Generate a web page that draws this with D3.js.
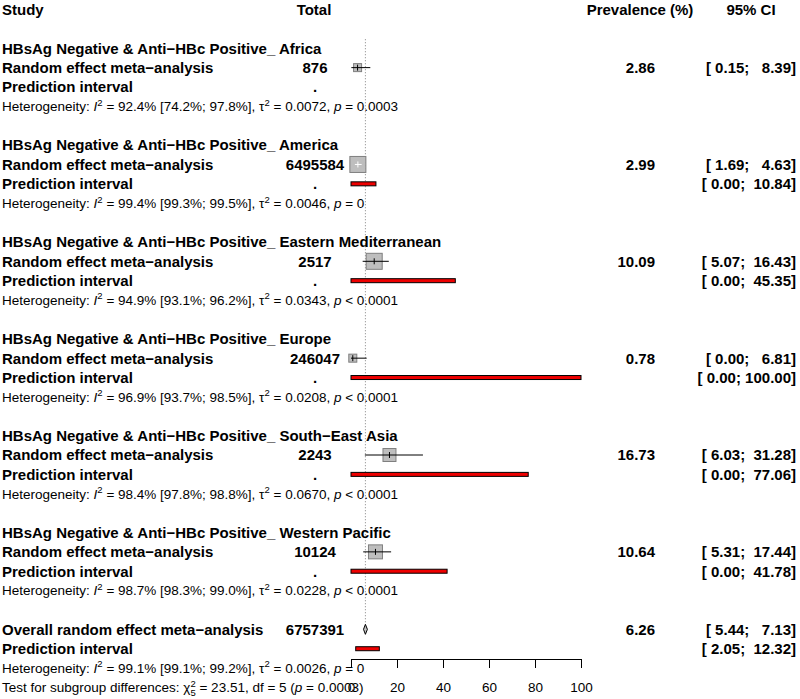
<!DOCTYPE html>
<html><head><meta charset="utf-8">
<script src="https://cdn.jsdelivr.net/npm/d3@7"></script>
<style>body{margin:0;background:#fff} svg{display:block} text{white-space:pre}</style>
</head><body>
<svg id="chart" width="800" height="699"></svg>
<script>
// ---------------- data ----------------
const regions = ["Africa", "America", "Eastern Mediterranean", "Europe", "South\u2212East Asia", "Western Pacific"];
const totals = [876, 6495584, 2517, 246047, 2243, 10124];
const prevalence = [2.86, 2.99, 10.09, 0.78, 16.73, 10.64];
const ciLower = [0.15, 1.69, 5.07, 0.00, 6.03, 5.31];
const ciUpper = [8.39, 4.63, 16.43, 6.81, 31.28, 17.44];
const piLower = [null, 0.00, 0.00, 0.00, 0.00, 0.00];
const piUpper = [null, 10.84, 45.35, 100.00, 77.06, 41.78];
const weights = [6.4, 25.5, 25.5, 6.4, 16.8, 19.5];
const hetI2 = ["92.4%", "99.4%", "94.9%", "96.9%", "98.4%", "98.7%"];
const hetI2Low = ["74.2%", "99.3%", "93.1%", "93.7%", "97.8%", "98.3%"];
const hetI2High = ["97.8%", "99.5%", "96.2%", "98.5%", "98.8%", "99.0%"];
const hetTau2 = ["0.0072", "0.0046", "0.0343", "0.0208", "0.0670", "0.0228"];
const hetP = ["= 0.0003", "= 0", "< 0.0001", "< 0.0001", "< 0.0001", "< 0.0001"];
const overall = {total: 6757391, est: 6.26, lo: 5.44, hi: 7.13, piLo: 2.05, piHi: 12.32,
  i2: "99.1%", i2Low: "99.1%", i2High: "99.2%", tau2: "0.0026", p: "= 0"};
const subgroupTest = {chi2: "23.51", df: "5", p: "0.0003"};
const xTicks = [0, 20, 40, 60, 80, 100];
const headers = {study: "Study", total: "Total", prev: "Prevalence (%)", ci: "95% CI"};

// ---------------- layout ----------------
const FONT = "'Liberation Sans', Arial, Helvetica, sans-serif";
const FS = 15, FSH = 13.5;
const rowH = 19.37, row0 = 9.5;
const yRow = i => row0 + i * rowH;
const colTotal = 315, colPrev = 655, colCI = 796;
const svg = d3.select("#chart").style("font-family", FONT);
svg.append("rect").attr("width", 800).attr("height", 699).attr("fill", "#fff");

const x = d3.scaleLinear().domain([0, 100]).range([351, 581]);
const sq = d3.scaleSqrt().domain([0, 25.5]).range([0, 16]);

const fmtLo = v => v.toFixed(2).padStart(5, " ");
const fmtHi = v => v.toFixed(2).padStart(6, " ");
const ciStr = (a, b) => "[" + fmtLo(a) + "; " + fmtHi(b) + "]";

function txt(xp, row, s, opts = {}) {
  return svg.append("text")
    .attr("x", xp).attr("y", yRow(row) + (opts.fs || FS) * 0.36)
    .attr("font-size", opts.fs || FS)
    .attr("font-weight", opts.bold === false ? "normal" : "bold")
    .attr("text-anchor", opts.anchor || "start")
    .attr("fill", "#000")
    .text(s);
}

// reference (overall) dotted line - drawn first so text sits above
svg.append("line")
  .attr("x1", x(overall.est)).attr("x2", x(overall.est))
  .attr("y1", yRow(2) - 9).attr("y2", yRow(32) - 6)
  .attr("stroke", "#808080").attr("stroke-width", 1).attr("stroke-dasharray", "1,2");

// headers
txt(2, 0, headers.study);
txt(314, 0, headers.total, {anchor: "middle"});
txt(640, 0, headers.prev, {anchor: "middle"});
txt(751, 0, headers.ci, {anchor: "middle"});

function hetText(row, i2, lo, hi, tau, p) {
  const t = svg.append("text").attr("x", 2).attr("y", yRow(row) + FSH * 0.36)
    .attr("font-size", FSH).attr("fill", "#000");
  t.append("tspan").text("Heterogeneity: ");
  t.append("tspan").attr("font-style", "italic").text("I");
  t.append("tspan").attr("font-size", 9.5).attr("dy", -5.5).text("2");
  t.append("tspan").attr("dy", 5.5).text(` = ${i2} [${lo}; ${hi}], `);
  t.append("tspan").text("\u03c4");
  t.append("tspan").attr("font-size", 9.5).attr("dy", -5.5).text("2");
  t.append("tspan").attr("dy", 5.5).text(` = ${tau}, `);
  t.append("tspan").attr("font-style", "italic").text("p");
  t.append("tspan").text(` ${p}`);
}

function piBar(row, lo, hi) {
  svg.append("rect")
    .attr("x", x(lo)).attr("y", yRow(row) - 2)
    .attr("width", x(hi) - x(lo)).attr("height", 4)
    .attr("fill", "#ee0000").attr("stroke", "#000").attr("stroke-width", 1);
}

regions.forEach((r, g) => {
  const base = 2 + g * 5;
  txt(2, base, "HBsAg Negative & Anti\u2212HBc Positive_ " + r);
  txt(2, base + 1, "Random effect meta\u2212analysis");
  txt(colTotal, base + 1, String(totals[g]), {anchor: "middle"});
  txt(colPrev, base + 1, prevalence[g].toFixed(2), {anchor: "end"});
  txt(colCI, base + 1, ciStr(ciLower[g], ciUpper[g]), {anchor: "end"});
  txt(2, base + 2, "Prediction interval");
  txt(colTotal, base + 2, ".", {anchor: "middle"});
  if (piLower[g] !== null) {
    txt(colCI, base + 2, ciStr(piLower[g], piUpper[g]), {anchor: "end"});
    piBar(base + 2, piLower[g], piUpper[g]);
  }
  hetText(base + 3, hetI2[g], hetI2Low[g], hetI2High[g], hetTau2[g], hetP[g]);

  // square + CI
  const yc = yRow(base + 1);
  const s = sq(weights[g]);
  const cx = x(prevalence[g]);
  svg.append("rect").attr("x", cx - s / 2).attr("y", yc - s / 2)
    .attr("width", s).attr("height", s)
    .attr("fill", "#bebebe").attr("stroke", "#7f7f7f").attr("stroke-width", 1);
  const inside = x(ciLower[g]) >= cx - s / 2 && x(ciUpper[g]) <= cx + s / 2;
  const lc = inside ? "#fff" : "#000";
  svg.append("line").attr("x1", x(ciLower[g])).attr("x2", x(ciUpper[g]))
    .attr("y1", yc).attr("y2", yc).attr("stroke", lc).attr("stroke-width", 1);
  svg.append("line").attr("x1", cx).attr("x2", cx)
    .attr("y1", yc - 3).attr("y2", yc + 3).attr("stroke", lc).attr("stroke-width", 1);
});

// overall
txt(2, 32, "Overall random effect meta\u2212analysis");
txt(colTotal, 32, String(overall.total), {anchor: "middle"});
txt(colPrev, 32, overall.est.toFixed(2), {anchor: "end"});
txt(colCI, 32, ciStr(overall.lo, overall.hi), {anchor: "end"});
txt(2, 33, "Prediction interval");
txt(colCI, 33, ciStr(overall.piLo, overall.piHi), {anchor: "end"});
piBar(33, overall.piLo, overall.piHi);
hetText(34, overall.i2, overall.i2Low, overall.i2High, overall.tau2, overall.p);
{
  const yc = yRow(32), h = 5;
  svg.append("path")
    .attr("d", `M${x(overall.lo)},${yc}L${x(overall.est)},${yc - h}L${x(overall.hi)},${yc}L${x(overall.est)},${yc + h}Z`)
    .attr("fill", "#bebebe").attr("stroke", "#000").attr("stroke-width", 1);
}
{
  const t = svg.append("text").attr("x", 2).attr("y", yRow(35) + FSH * 0.36)
    .attr("font-size", FSH).attr("fill", "#000");
  t.append("tspan").text("Test for subgroup differences: ");
  t.append("tspan").text("\u03c7");
  t.append("tspan").attr("font-size", 9.5).attr("dy", -5.5).text("2");
  t.append("tspan").attr("font-size", 9.5).attr("dx", -5.3).attr("dy", 9.5).text(subgroupTest.df);
  t.append("tspan").attr("dy", -4).text(` = ${subgroupTest.chi2}, df = ${subgroupTest.df} (`);
  t.append("tspan").attr("font-style", "italic").text("p");
  t.append("tspan").text(` = ${subgroupTest.p})`);
}

// axis
const axisY = 659;
const ax = svg.append("g").attr("transform", `translate(0,${axisY})`)
  .call(d3.axisBottom(x).tickValues(xTicks).tickSize(9).tickSizeOuter(0).tickPadding(14));
ax.select(".domain").attr("stroke", "#000");
ax.selectAll(".tick line").attr("stroke", "#000");
ax.selectAll(".tick text").attr("font-size", FSH).attr("font-family", FONT).attr("fill", "#000");
</script>
</body></html>
